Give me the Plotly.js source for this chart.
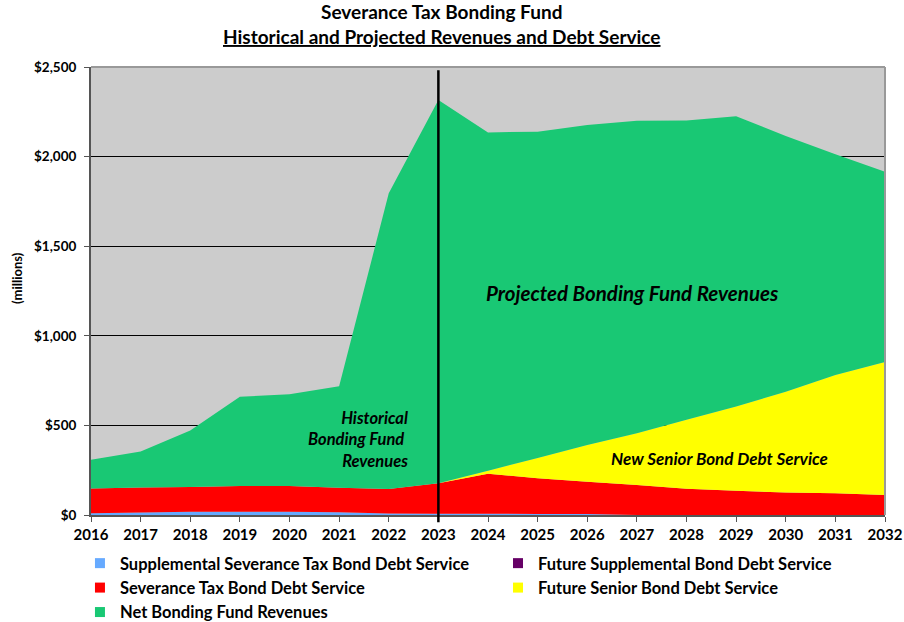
<!DOCTYPE html>
<html>
<head>
<meta charset="utf-8">
<script src="https://cdn.plot.ly/plotly-3.0.1.min.js"></script>
<style>html,body{margin:0;padding:0;background:#fff;}#chart{width:904px;height:622px;}</style>
</head>
<body>
<div id="chart"></div>
<script>
const years = [2016, 2017, 2018, 2019, 2020, 2021, 2022, 2023, 2024, 2025, 2026, 2027, 2028, 2029, 2030, 2031, 2032];
const supplementalDebt = [10, 14, 18, 18, 18, 16, 8, 7, 7, 6, 5, 0, 0, 0, 0, 0, 0];
const severanceDebt = [138, 139, 138, 144, 144, 136, 137, 170, 223, 199, 181, 167, 146, 136, 125, 121, 111];
const futureSupplementalDebt = [0, 0, 0, 0, 0, 0, 0, 0, 0, 0, 0, 0, 0, 0, 0, 0, 0];
const futureSeniorDebt = [0, 0, 0, 0, 0, 0, 0, 0, 17, 113, 204, 289, 385, 470, 563, 660, 743];
const netRevenues = [160, 202, 315, 498, 512, 566, 1650, 2139, 1888, 1821, 1786, 1744, 1671, 1619, 1427, 1232, 1062];
const yTicks = [0, 500, 1000, 1500, 2000, 2500];

const FONT = 'Lato, "Open Sans", sans-serif';
const series = [
  {name: 'Supplemental Severance Tax Bond Debt Service', y: supplementalDebt, color: '#66aaff', legend: 'legend'},
  {name: 'Severance Tax Bond Debt Service', y: severanceDebt, color: '#ff0000', legend: 'legend'},
  {name: 'Future Supplemental Bond Debt Service', y: futureSupplementalDebt, color: '#660066', legend: 'legend2'},
  {name: 'Future Senior Bond Debt Service', y: futureSeniorDebt, color: '#ffff00', legend: 'legend2'},
  {name: 'Net Bonding Fund Revenues', y: netRevenues, color: '#19c874', legend: 'legend'}
];

const traces = [];
series.forEach(s => {
  traces.push({
    type: 'scatter', x: years, y: s.y, stackgroup: 'one', mode: 'none',
    fillcolor: s.color, name: s.name, showlegend: false, hoverinfo: 'x+y+name'
  });
});
series.forEach(s => {
  traces.push({
    type: 'scatter', x: [null], y: [null], mode: 'markers', name: s.name, legend: s.legend,
    marker: {symbol: 'square', size: 10, color: s.color}, showlegend: true
  });
});

const legendFont = {family: FONT, size: 16.5, weight: 'bold', color: '#000'};
const layout = {
  width: 904, height: 622,
  margin: {l: 91, r: 19, t: 67, b: 107, autoexpand: false},
  paper_bgcolor: '#ffffff', plot_bgcolor: '#cccccc',
  font: {family: FONT, color: '#000'},
  showlegend: true,
  legend: {
    orientation: 'v', x: -0.0139, xanchor: 'left', y: -0.069, yanchor: 'top',
    font: legendFont, traceorder: 'normal', bgcolor: 'rgba(0,0,0,0)'
  },
  legend2: {
    orientation: 'v', x: 0.5126, xanchor: 'left', y: -0.069, yanchor: 'top',
    font: legendFont, traceorder: 'normal', bgcolor: 'rgba(0,0,0,0)'
  },
  xaxis: {
    range: [2016, 2032], tickvals: years, ticktext: years.map(String),
    ticks: 'outside', ticklen: 5, tickcolor: '#555', tickwidth: 1,
    showline: true, linecolor: '#555', linewidth: 2, showgrid: false, zeroline: false,
    tickfont: {family: FONT, size: 15, weight: 'bold', color: '#000'}
  },
  yaxis: {
    range: [0, 2500], tickvals: yTicks, ticktext: yTicks.map(v => '$' + v.toLocaleString('en-US')),
    ticks: 'outside', ticklen: 5, tickcolor: '#555', tickwidth: 1, ticklabelstandoff: 5,
    showline: true, linecolor: '#555', linewidth: 2, zeroline: false,
    showgrid: true, gridcolor: '#000', gridwidth: 1,
    tickfont: {family: FONT, size: 13.5, weight: 'bold', color: '#000'}
  },
  shapes: [
    {type: 'line', xref: 'paper', yref: 'paper', x0: 0, x1: 1, y0: 1, y1: 1, line: {color: '#999', width: 2}},
    {type: 'line', xref: 'paper', yref: 'paper', x0: 1, x1: 1, y0: 0, y1: 1, line: {color: '#999', width: 2}},
    {type: 'line', xref: 'x', yref: 'paper', x0: 2023, x1: 2023, y0: -0.016, y1: 0.993, line: {color: '#000', width: 2.5}}
  ],
  annotations: [
    {xref: 'paper', yref: 'paper', x: 0.442, y: 1.1228, xanchor: 'center', yanchor: 'middle', showarrow: false,
     text: '<b>Severance Tax Bonding Fund</b>', font: {family: FONT, size: 19, color: '#000'}},
    {xref: 'paper', yref: 'paper', x: 0.442, y: 1.067, xanchor: 'center', yanchor: 'middle', showarrow: false,
     text: '<b><u>Historical and Projected Revenues and Debt Service</u></b>', font: {family: FONT, size: 19, color: '#000'}},
    {xref: 'paper', yref: 'paper', x: -0.0932, y: 0.529, xanchor: 'center', yanchor: 'middle', showarrow: false, textangle: -90,
     text: '<b>(millions)</b>', font: {family: FONT, size: 13, color: '#000'}},
    {xref: 'x', yref: 'y', x: 2026.92, y: 1239, xanchor: 'center', yanchor: 'middle', showarrow: false,
     text: '<b><i>Projected Bonding Fund Revenues</i></b>', font: {family: FONT, size: 20.5, color: '#000'}},
    {xref: 'x', yref: 'y', x: 2022.43, y: 424, xanchor: 'right', yanchor: 'middle', align: 'right', showarrow: false,
     text: '<b><i>Historical<br>Bonding Fund <br>Revenues</i></b>', font: {family: FONT, size: 16.5, color: '#000'}},
    {xref: 'x', yref: 'y', x: 2028.67, y: 318, xanchor: 'center', yanchor: 'middle', showarrow: false,
     text: '<b><i>New Senior Bond Debt Service</i></b>', font: {family: FONT, size: 17, color: '#000'}}
  ]
};

Plotly.newPlot('chart', traces, layout, {displayModeBar: false, staticPlot: true});
</script>
</body>
</html>
